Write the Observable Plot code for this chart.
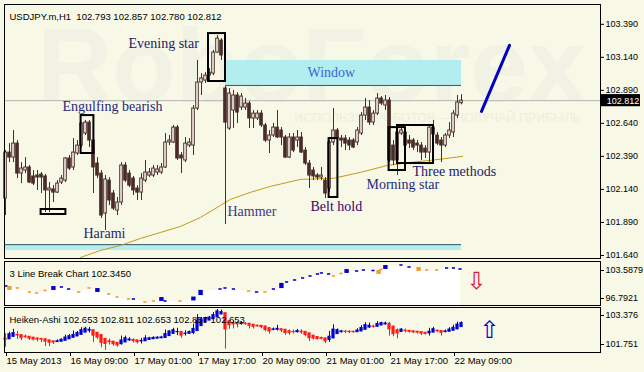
<!DOCTYPE html>
<html><head><meta charset="utf-8">
<script src="https://cdn.jsdelivr.net/npm/d3@7"></script>
<script src="https://cdn.jsdelivr.net/npm/@observablehq/plot@0.6"></script>
<style>
html,body{margin:0;padding:0;background:#f8f8e6;}
#chart{position:relative;width:644px;height:372px;overflow:hidden;background:#f8f8e6;}
#chart svg{position:absolute;left:0;}
</style></head><body><div id="chart"></div>
<script>
const title = "USDJPY.m,H1  102.793 102.857 102.780 102.812";
const lastPrice = 102.812;
const open = [102.071,102.419,102.381,102.487,102.260,102.283,102.306,102.238,102.245,102.253,102.238,102.132,102.140,102.116,102.192,102.207,102.374,102.306,102.412,102.472,102.563,102.646,102.510,102.336,102.260,101.957,102.207,102.109,101.980,102.041,102.321,102.260,102.222,102.147,102.116,102.207,102.245,102.245,102.268,102.268,102.306,102.495,102.495,102.608,102.397,102.359,102.472,102.472,102.752,102.949,102.964,103.025,103.017,103.176,103.267,102.904,102.601,102.737,102.851,102.760,102.760,102.790,102.677,102.677,102.714,102.624,102.510,102.548,102.608,102.586,102.533,102.381,102.533,102.510,102.533,102.434,102.336,102.283,102.245,102.230,102.207,102.147,102.495,102.586,102.525,102.525,102.510,102.510,102.495,102.563,102.699,102.760,102.646,102.714,102.828,102.775,102.813,102.472,102.359,102.563,102.571,102.510,102.510,102.487,102.472,102.449,102.419,102.608,102.548,102.510,102.472,102.548,102.571,102.699,102.793];
const high = [102.434,102.487,102.586,102.510,102.343,102.381,102.321,102.283,102.283,102.268,102.253,102.192,102.169,102.207,102.245,102.381,102.397,102.525,102.510,102.646,102.662,102.662,102.525,102.381,102.283,102.245,102.230,102.132,102.079,102.343,102.343,102.283,102.238,102.169,102.260,102.359,102.298,102.321,102.321,102.336,102.563,102.548,102.624,102.624,102.419,102.533,102.525,102.775,103.116,103.017,103.025,103.055,103.192,103.305,103.282,102.919,102.904,102.889,102.873,102.866,102.828,102.805,102.737,102.737,102.737,102.639,102.586,102.639,102.737,102.608,102.548,102.563,102.563,102.586,102.571,102.457,102.359,102.306,102.260,102.306,102.230,102.510,102.752,102.601,102.548,102.548,102.533,102.525,102.608,102.722,102.828,102.813,102.737,102.866,102.843,102.851,102.836,102.510,102.601,102.608,102.601,102.548,102.525,102.510,102.495,102.472,102.624,102.662,102.571,102.533,102.563,102.646,102.737,102.851,102.857];
const low = [101.942,102.343,102.343,102.222,102.184,102.260,102.184,102.169,102.132,102.109,101.965,101.965,102.041,102.109,102.177,102.192,102.283,102.283,102.397,102.457,102.548,102.457,102.109,102.222,101.920,101.829,102.018,101.980,101.942,102.018,102.192,102.154,102.094,102.056,102.056,102.192,102.230,102.230,102.245,102.253,102.298,102.472,102.487,102.359,102.260,102.343,102.457,102.397,102.737,102.851,102.942,102.949,103.002,103.169,103.116,101.874,102.586,102.601,102.639,102.737,102.737,102.601,102.601,102.662,102.608,102.495,102.412,102.533,102.525,102.472,102.374,102.374,102.419,102.457,102.412,102.321,102.147,102.207,102.207,102.207,102.071,102.116,102.472,102.510,102.457,102.434,102.434,102.449,102.472,102.548,102.662,102.624,102.624,102.699,102.775,102.737,102.343,102.321,102.245,102.548,102.457,102.449,102.434,102.419,102.359,102.374,102.343,102.540,102.472,102.343,102.457,102.525,102.533,102.677,102.780];
const close = [102.419,102.381,102.487,102.260,102.298,102.306,102.192,102.184,102.230,102.230,102.132,102.147,102.116,102.184,102.222,102.374,102.298,102.419,102.472,102.639,102.646,102.510,102.306,102.245,101.942,102.215,102.056,101.995,102.041,102.321,102.207,102.169,102.132,102.116,102.222,102.268,102.268,102.298,102.291,102.306,102.495,102.510,102.608,102.374,102.374,102.487,102.495,102.752,102.949,102.980,103.002,103.002,103.176,103.282,103.154,102.646,102.866,102.851,102.722,102.843,102.790,102.677,102.714,102.714,102.624,102.510,102.548,102.608,102.533,102.533,102.381,102.533,102.434,102.533,102.419,102.336,102.245,102.238,102.230,102.245,102.109,102.495,102.586,102.525,102.510,102.487,102.472,102.457,102.586,102.699,102.760,102.646,102.714,102.828,102.790,102.813,102.359,102.359,102.571,102.586,102.472,102.487,102.457,102.472,102.419,102.419,102.608,102.556,102.487,102.472,102.548,102.586,102.714,102.798,102.812];

// moving average (at bar indices)
const maI = [18.75,23.75,28.75,33.75,38.75,43.75,48.75,53.75,56.25,61.25,66.25,73.75,82,88.75,95.5,101.25,106.25,114.25];
const maV = [101.625,101.678,101.716,101.769,101.814,101.860,101.928,102.019,102.065,102.118,102.163,102.216,102.224,102.269,102.322,102.345,102.360,102.390];

// pattern labels
const labText = ["Evening star","Engulfing bearish","Harami","Hammer","Belt hold","Morning star","Three methods","Window"];
const labI = [30.75,14.25,19.5,55.5,76.25,90.25,101.75,75.5];
const labP = [103.244,102.768,101.806,101.973,102.011,102.177,102.276,103.025];
// pattern boxes
const boxI1 = [18.9,8.9,50.75,80.9,95.9,98];
const boxI2 = [22.1,15.1,55,83.1,100,107];
const boxP1 = [102.699,101.988,103.320,102.525,102.608,102.624];
const boxP2 = [102.412,101.950,102.957,102.079,102.283,102.336];
// zones
const winI = [55,114], winP = [103.116,102.927];
const bandI = [-0.25,114], bandP = [101.722,101.677];
// forecast line
const fcI = [119,126], fcP = [102.731,103.231];

// 3 line break
const lbI = [0.25,1.1,3.1,6.1,7.9,10,12.1,14.1,15.9,18.4,21,23.1,25.9,28,30.9,32.1,35,37.1,39.1,40,43.75,47.1,48.9,53.75,55,57.1,60.9,62.9,65,67.1,69.1,70.4,72.4,74.4,76.25,78.1,79.1,80.9,82.1,84,85.4,87.9,89.6,92,93.4,94,95.1,99,101,103.4,105.4,107.9,110.4,112.1,113.75];
const lbV = [99.727,99.418,99.418,98.800,98.646,99.032,99.418,99.572,99.263,98.800,99.418,99.109,98.491,98.028,97.719,97.719,97.255,97.410,97.719,97.410,97.410,97.796,98.723,99.263,99.418,99.263,98.954,98.800,98.800,99.263,99.804,100.345,100.653,100.962,101.271,101.580,101.735,101.580,101.271,101.657,102.043,102.043,102.198,102.121,101.889,102.275,102.661,102.970,102.661,102.352,102.198,102.198,102.507,102.507,102.352];
const lbC = "booooobbbooboooboobbobbbbbobobbbbbbbbboobbbboobbbooobbbo".split("");
const lbK = "dsddddsddddsddddddsddsSdddddddSdddddddddsdddsdsddsddddddd".split("");
const lbMin = 96.7921, lbMax = 103.5879;
const haMin = 101.751, haMax = 103.376;

const xTickIdx = [0,16,32,48,64,80,96,112];
const xTickLab = ["15 May 2013","16 May 09:00","17 May 01:00","17 May 17:00","20 May 09:00","21 May 01:00","21 May 17:00","22 May 09:00"];
const mainTicks = [103.39,103.14,102.89,102.64,102.39,102.14,101.89,101.64];

// ---------------------------------------------------------------
const n = close.length;
const bars = d3.range(n).map(i => ({i, o: open[i], h: high[i], l: low[i], c: close[i]}));
const ma = maI.map((v, k) => ({i: v, v: maV[k]}));
const labs = labText.map((t, k) => ({t, i: labI[k], p: labP[k]}));
const boxes = boxI1.map((v, k) => ({i1: v, i2: boxI2[k], p1: boxP1[k], p2: boxP2[k]}));
const lb = lbI.map((v, k) => ({i: v, v: lbV[k], c: lbC[k], k: lbK[k]}));
const haO = [], haC = [];
for (let i = 0; i < n; i++) {
  haC[i] = (open[i] + high[i] + low[i] + close[i]) / 4;
  haO[i] = i === 0 ? (open[0] + close[0]) / 2 : (haO[i-1] + haC[i-1]) / 2;
}
const ha = bars.map((b, i) => ({i, o: haO[i], c: haC[i], h: Math.max(b.h, haO[i], haC[i]), l: Math.min(b.l, haO[i], haC[i]), up: haC[i] >= haO[i]}));

const labColor = {"Evening star":"#1c1c6c","Engulfing bearish":"#262678","Harami":"#1e1e70","Hammer":"#3a3a8c","Belt hold":"#3d0068","Morning star":"#1e2a7e","Three methods":"#1a1a6c","Window":"#3a66d0"};
const candle = "#4a2c2a";
const xDom = [-0.25, 148.75];
const baseStyle = {fontFamily: "'Liberation Sans', Arial, sans-serif", fontSize: "9px", background: "transparent", overflow: "visible", color: "black"};
const root = document.getElementById("chart");

const main = Plot.plot({
  width: 644, height: 260, marginLeft: 4, marginRight: 44, marginTop: 4, marginBottom: 2,
  x: {domain: xDom, axis: null, label: null},
  y: {domain: [101.617, 103.54], axis: null, label: null},
  style: baseStyle,
  marks: [
    Plot.text(["RoboForex"], {x: 76.5, y: 102.813, text: d => d, lineAnchor: "bottom", fontSize: 104, fontWeight: "bold", fill: "#f2f2e4", fontFamily: "'Liberation Sans', Arial, sans-serif"}),
    Plot.text(["ИСПОЛЬЗУЙ РОБОТОВ — ПОЛУЧАЙ ПРИБЫЛЬ"], {x: 108, y: 102.654, text: d => d, lineAnchor: "bottom", fontSize: 12.5, fill: "#eeeedf"}),
    Plot.rect([0], {x1: winI[0], x2: winI[1], y1: winP[0], y2: winP[1], fill: "#b2eef0"}),
    Plot.ruleY([winP[1]], {x1: winI[0], x2: winI[1], stroke: "#35585a"}),
    Plot.rect([0], {x1: bandI[0], x2: bandI[1], y1: bandP[0], y2: bandP[1], fill: "#b2eef0"}),
    Plot.ruleY([bandP[0]], {x1: bandI[0], x2: bandI[1], stroke: "#35585a"}),
    Plot.ruleY([lastPrice], {stroke: "#b4b4b0"}),
    Plot.line(ma, {x: "i", y: "v", stroke: "#c49a1c", strokeWidth: 1}),
    Plot.ruleX(bars, {x: "i", y1: "l", y2: "h", stroke: candle, strokeWidth: 1}),
    Plot.rect(bars, {x1: d => d.i - 0.32, x2: d => d.i + 0.32, y1: "o", y2: "c", fill: d => d.c >= d.o ? "#fbfbf0" : candle, stroke: candle, strokeWidth: 1}),
    Plot.rect(boxes, {x1: "i1", x2: "i2", y1: "p1", y2: "p2", fill: "none", stroke: "black", strokeWidth: 2}),
    Plot.text(labs, {x: "i", y: "p", text: "t", textAnchor: "start", fontSize: 14, fontFamily: "'Liberation Serif', 'Times New Roman', serif", fill: d => labColor[d.t]}),
    Plot.line(fcI.map((v, k) => ({i: v, p: fcP[k]})), {x: "i", y: "p", stroke: "#0000c8", strokeWidth: 3}),
    Plot.text([title], {text: d => d, frameAnchor: "top-left", dx: 5, dy: 9, textAnchor: "start", fontSize: 9.5, fill: "black"}),
    Plot.axisY(mainTicks, {anchor: "right", label: null, tickSize: 3, tickPadding: 2, tickFormat: d3.format(".3f"), fontSize: 9, fill: "black", stroke: "black"}),
    Plot.rect([lastPrice], {x1: 149, x2: 158.75, y1: d => d - 0.046, y2: d => d + 0.046, fill: "black"}),
    Plot.text([lastPrice], {x: 150.3, y: d => d, text: d => d3.format(".3f")(d), textAnchor: "start", fill: "white", fontSize: 9}),
    Plot.frame({stroke: "black"})
  ]
});
main.style.top = "0px";
root.appendChild(main);

const p2 = Plot.plot({
  width: 644, height: 48, marginLeft: 4, marginRight: 44, marginTop: 2, marginBottom: 2,
  x: {domain: xDom, axis: null, label: null},
  y: {domain: [lbMin, lbMax], axis: null, label: null},
  style: baseStyle,
  marks: [
    Plot.area(lb, {x1: "i", y1: lbMin, y2: "v", fill: "white", curve: "monotone-x"}),
    Plot.rect(lb, {
      x1: d => d.i - (d.k === "d" ? 0.4 : 0.55), x2: d => d.i + (d.k === "d" ? 0.4 : 0.55),
      y1: d => d.v - (d.k === "d" ? 0.12 : d.k === "s" ? 0.3 : 0.4), y2: d => d.v + (d.k === "d" ? 0.12 : d.k === "s" ? 0.3 : 0.4),
      fill: d => d.c === "b" ? "#0000d0" : "#f29a2e"}),
    Plot.text(["3 Line Break Chart 102.3450"], {text: d => d, frameAnchor: "top-left", dx: 5, dy: 9, textAnchor: "start", fontSize: 9.5, fill: "black"}),
    Plot.text(["⇩"], {x: 117.75, y: 100.5, text: d => d, fontSize: 24, fill: "#dc1440", fontFamily: "'DejaVu Sans', sans-serif"}),
    Plot.axisY([lbMax], {anchor: "right", label: null, tickSize: 3, tickPadding: 2, dy: 9, tickFormat: d3.format(".4f"), fontSize: 9, fill: "black", stroke: "black"}),
    Plot.axisY([lbMin], {anchor: "right", label: null, tickSize: 3, tickPadding: 2, dy: -7, tickFormat: d3.format(".4f"), fontSize: 9, fill: "black", stroke: "black"}),
    Plot.frame({stroke: "black"})
  ]
});
p2.style.top = "259px";
root.appendChild(p2);

const p3 = Plot.plot({
  width: 644, height: 67, marginLeft: 4, marginRight: 44, marginTop: 2, marginBottom: 20,
  x: {domain: xDom, axis: null, label: null},
  y: {domain: [haMin, haMax], axis: null, label: null},
  style: baseStyle,
  marks: [
    Plot.ruleX(ha, {x: "i", y1: "l", y2: "h", stroke: d => d.up ? "#0000d0" : "#ff1a1a", strokeWidth: 1}),
    Plot.rect(ha, {x1: d => d.i - 0.4, x2: d => d.i + 0.4, y1: "o", y2: "c", insetTop: -0.6, insetBottom: -0.6, fill: d => d.up ? "#0000d0" : "#ff1a1a"}),
    Plot.text(["Heiken-Ashi 102.653 102.811 102.653 102.857 102.653"], {text: d => d, frameAnchor: "top-left", dx: 5, dy: 9, textAnchor: "start", fontSize: 9.5, fill: "black"}),
    Plot.text(["⇧"], {x: 121, y: 102.55, text: d => d, fontSize: 24, fill: "#0000d0", fontFamily: "'DejaVu Sans', sans-serif"}),
    Plot.axisY([haMax], {anchor: "right", label: null, tickSize: 3, tickPadding: 2, dy: 8, tickFormat: d3.format(".3f"), fontSize: 9, fill: "black", stroke: "black"}),
    Plot.axisY([haMin], {anchor: "right", label: null, tickSize: 3, tickPadding: 2, dy: -8, tickFormat: d3.format(".3f"), fontSize: 9, fill: "black", stroke: "black"}),
    Plot.axisX(xTickIdx, {anchor: "bottom", label: null, tickSize: 4, tickPadding: 1, textAnchor: "start", dx: 1, tickFormat: d => xTickLab[xTickIdx.indexOf(d)], fontSize: 9.5, fill: "black", stroke: "black"}),
    Plot.frame({stroke: "black"})
  ]
});
p3.style.top = "305px";
root.appendChild(p3);
</script>
</body></html>
